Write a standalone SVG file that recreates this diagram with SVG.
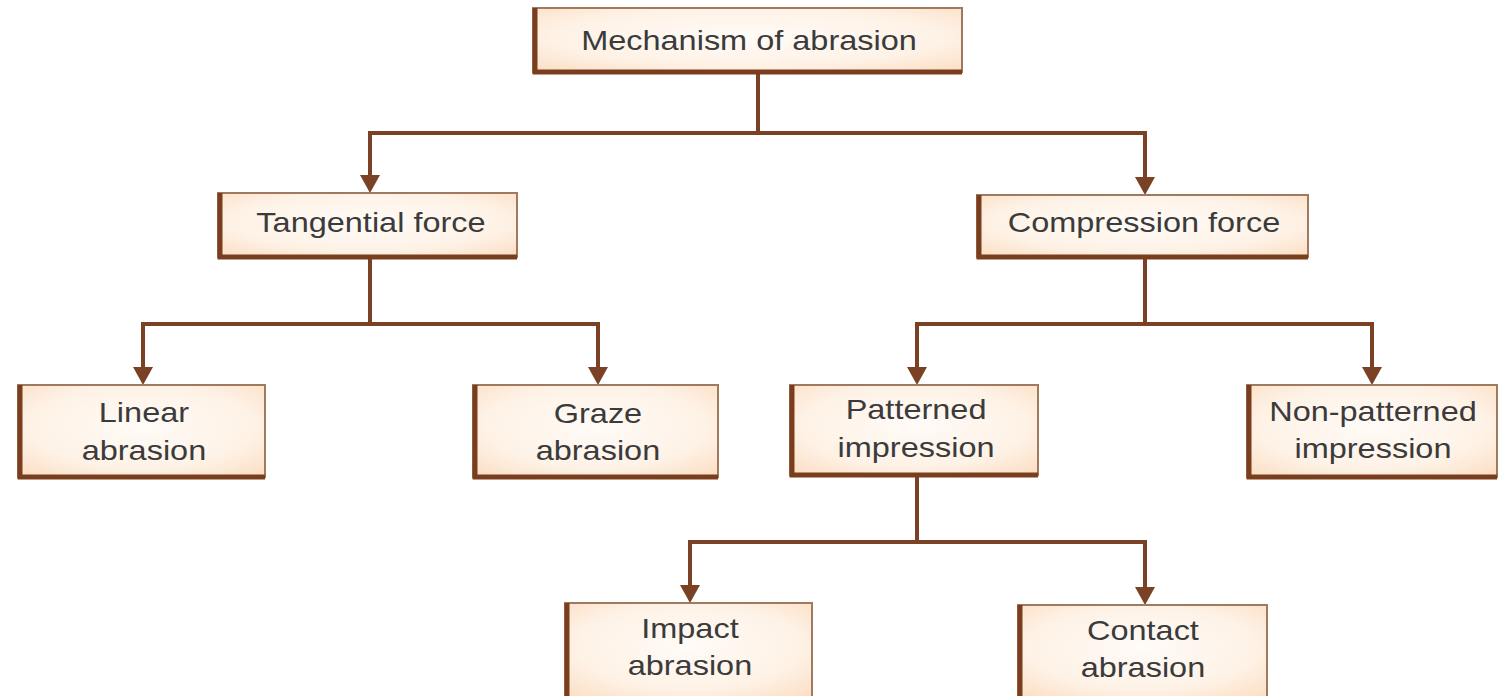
<svg xmlns="http://www.w3.org/2000/svg" width="1504" height="696" viewBox="0 0 1504 696">
  <style>
    .box { fill: url(#fillg); stroke: #a07a5e; stroke-width: 2; }
    .edge { fill: none; stroke: #7a3e1e; stroke-width: 5; stroke-linejoin: miter; }
    .lbl { font-family: "Liberation Sans", Arial, sans-serif; font-size: 28px; fill: #3b3b3b; text-anchor: middle; }
    .conn { fill: none; stroke: #7a4124; stroke-width: 4; stroke-linejoin: miter; }
    .arr { marker-end: url(#ah); }
  </style>
  <defs>
    <radialGradient id="fillg" cx="0.5" cy="0.45" r="0.75">
      <stop offset="0" stop-color="#fffbf7"/>
      <stop offset="0.6" stop-color="#fef2e6"/>
      <stop offset="1" stop-color="#fbdcc0"/>
    </radialGradient>
    <marker id="ah" markerUnits="userSpaceOnUse" viewBox="0 0 18 20" markerWidth="18" markerHeight="20" refX="14" refY="10" orient="auto">
      <path d="M0,0 L18,10 L0,20 z" fill="#7a4124"/>
    </marker>
  </defs>
  <rect width="1504" height="696" fill="#ffffff"/>

  <g id="connectors">
    <path class="conn" d="M758,72 V133"/>
    <path class="conn arr" d="M758,133 H370 V189"/>
    <path class="conn arr" d="M758,133 H1145 V191"/>
    <path class="conn" d="M370,257 V324"/>
    <path class="conn arr" d="M370,324 H143 V381"/>
    <path class="conn arr" d="M370,324 H598 V381"/>
    <path class="conn" d="M1145,257 V324"/>
    <path class="conn arr" d="M1145,324 H917 V381"/>
    <path class="conn arr" d="M1145,324 H1372 V381"/>
    <path class="conn" d="M917,475 V542"/>
    <path class="conn arr" d="M917,542 H690 V599"/>
    <path class="conn arr" d="M917,542 H1145 V601"/>
  </g>

  <g id="node-mechanism">
    <rect class="box" x="533" y="8" width="429" height="64"/>
    <path class="edge" d="M535,8 V72 H962"/>
    <text class="lbl" transform="scale(1.16 1)" x="645.7" y="50">Mechanism of abrasion</text>
  </g>

  <g id="node-tangential">
    <rect class="box" x="218" y="193" width="299" height="64"/>
    <path class="edge" d="M220,193 V257 H517"/>
    <text class="lbl" transform="scale(1.16 1)" x="319.8" y="232">Tangential force</text>
  </g>

  <g id="node-compression">
    <rect class="box" x="977" y="195" width="331" height="62"/>
    <path class="edge" d="M979,195 V257 H1308"/>
    <text class="lbl" transform="scale(1.16 1)" x="986.2" y="232">Compression force</text>
  </g>

  <g id="node-linear">
    <rect class="box" x="18" y="385" width="247" height="92"/>
    <path class="edge" d="M20,385 V477 H265"/>
    <text class="lbl" transform="scale(1.16 1)" y="422"><tspan x="124.1">Linear</tspan><tspan x="124.1" y="460">abrasion</tspan></text>
  </g>

  <g id="node-graze">
    <rect class="box" x="473" y="385" width="245" height="92"/>
    <path class="edge" d="M475,385 V477 H718"/>
    <text class="lbl" transform="scale(1.16 1)" y="423"><tspan x="515.5">Graze</tspan><tspan x="515.5" y="460">abrasion</tspan></text>
  </g>

  <g id="node-patterned">
    <rect class="box" x="790" y="385" width="248" height="90"/>
    <path class="edge" d="M792,385 V475 H1038"/>
    <text class="lbl" transform="scale(1.16 1)" y="419"><tspan x="789.7">Patterned</tspan><tspan x="789.7" y="457">impression</tspan></text>
  </g>

  <g id="node-nonpatterned">
    <rect class="box" x="1247" y="385" width="250" height="92"/>
    <path class="edge" d="M1249,385 V477 H1497"/>
    <text class="lbl" transform="scale(1.16 1)" y="421"><tspan x="1183.6">Non-patterned</tspan><tspan x="1183.6" y="458">impression</tspan></text>
  </g>

  <g id="node-impact">
    <rect class="box" x="565" y="603" width="247" height="96"/>
    <path class="edge" d="M567,603 V699"/>
    <text class="lbl" transform="scale(1.16 1)" y="638"><tspan x="594.8">Impact</tspan><tspan x="594.8" y="675">abrasion</tspan></text>
  </g>

  <g id="node-contact">
    <rect class="box" x="1018" y="605" width="249" height="94"/>
    <path class="edge" d="M1020,605 V699"/>
    <text class="lbl" transform="scale(1.16 1)" y="640"><tspan x="985.3">Contact</tspan><tspan x="985.3" y="677">abrasion</tspan></text>
  </g>
</svg>
